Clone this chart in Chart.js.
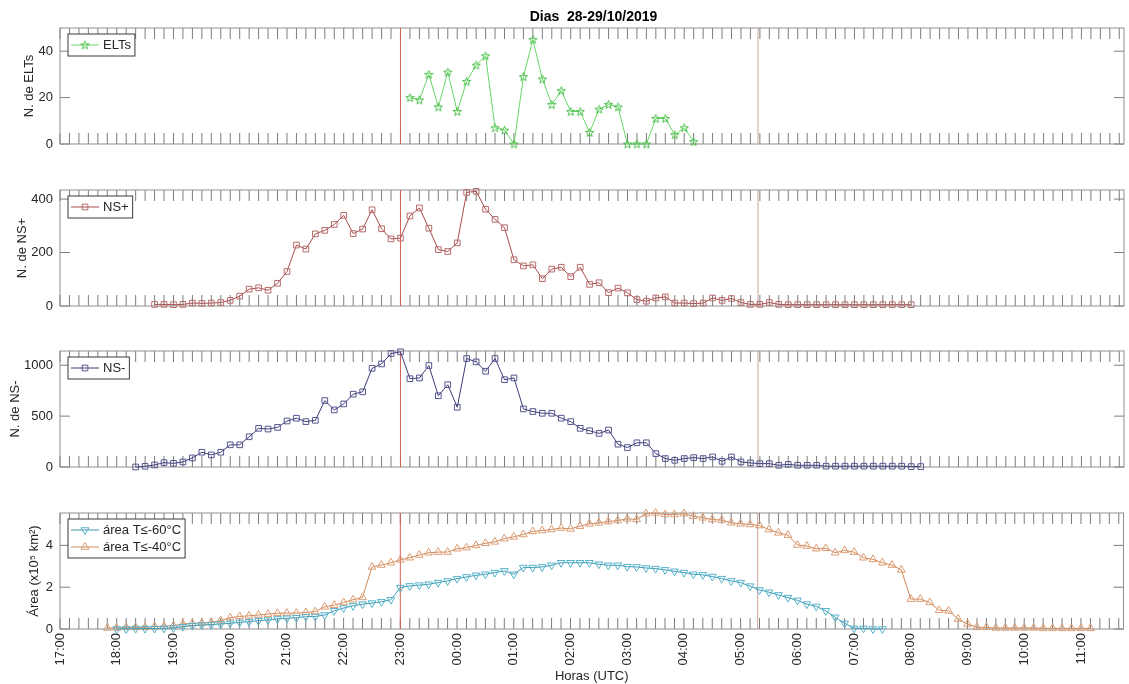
<!DOCTYPE html>
<html lang="pt">
<head>
<meta charset="utf-8">
<title>Dias 28-29/10/2019</title>
<script src="https://cdn.jsdelivr.net/npm/chart.js@4.4.1/dist/chart.umd.min.js"></script>
<style>
  html, body { margin: 0; padding: 0; background: #fff; }
  #fig { position: relative; width: 1129px; height: 684px; overflow: hidden; background: #fff; }
  #fig canvas { position: absolute; left: 0; top: 0; }
  #titulo {
    position: absolute; left: 60px; width: 1067px; top: 8px; line-height: 16px;
    text-align: center; white-space: pre; color: #000;
    font: bold 14px "Liberation Sans", Arial, Helvetica, sans-serif;
  }
</style>
</head>
<body>
<div id="fig">
  <canvas id="c1" width="1129" height="684"></canvas>
  <canvas id="c2" width="1129" height="684"></canvas>
  <canvas id="c3" width="1129" height="684"></canvas>
  <canvas id="c4" width="1129" height="684"></canvas>
  <div id="titulo">Dias  28-29/10/2019</div>
</div>
<script>
// ---- dados (amostragem a cada 10 min) ----
const PASSO_MIN = 10;
const INICIO_EIXO = '17:00';
const FIM_EIXO = '11:45';
const rotulosHora = ['17:00','18:00','19:00','20:00','21:00','22:00','23:00','00:00','01:00','02:00',
                     '03:00','04:00','05:00','06:00','07:00','08:00','09:00','10:00','11:00'];
const marcosVerticais = ['23:00', '05:18'];

const inicioELT = '23:10';
const elts = [20,19,30,16,31,14,27,34,38,7,6,0,29,45,28,17,23,14,14,5,15,17,16,0,0,0,11,11,4,7,1];

const inicioNSpos = '18:40';
const nsPos = [6,6,5,6,11,10,11,13,21,37,63,68,59,85,129,228,213,270,283,305,339,271,288,360,289,251,
               254,337,367,291,211,204,236,425,429,362,324,293,173,150,154,102,138,
               145,110,145,81,87,50,67,49,24,18,30,34,11,11,9,11,30,21,28,13,6,6,
               13,6,5,5,5,5,5,5,5,5,5,5,5,5,5,5];

const inicioNSneg = '18:20';
const nsNeg = [0,7,20,43,36,50,89,145,119,145,218,218,297,380,373,389,452,479,446,459,653,561,620,716,
               739,970,1013,1115,1132,868,875,997,700,809,587,1066,1033,941,1066,858,875,571,545,528,528,
               480,446,380,356,330,363,224,191,238,238,132,83,66,83,92,83,99,56,99,50,40,33,
               33,17,26,17,17,17,8,8,8,8,8,8,8,8,8,4,4];

const inicioArea60 = '18:00';
const area60 = [0,0,0.02,0.02,0.02,0.03,0.05,0.11,0.16,0.19,0.21,0.24,0.27,0.32,0.35,0.40,0.43,0.48,
                0.51,0.54,0.59,0.60,0.67,0.87,1.00,1.11,1.19,1.24,1.30,1.40,
                1.98,2.06,2.10,2.14,2.22,2.30,2.41,2.49,2.57,2.62,2.70,2.78,2.62,2.94,2.94,2.97,3.05,
                3.17,3.17,3.17,3.17,3.10,3.05,3.05,2.98,2.97,2.92,2.89,2.83,2.76,2.70,2.62,2.59,2.51,
                2.41,2.30,2.22,2.05,
                1.87,1.76,1.63,1.50,1.37,1.19,1.08,0.87,0.56,0.27,0.03,0.03,0,0];

const inicioArea40 = '17:50';
const area40 = [0.05,0.05,0.08,0.08,0.08,0.11,0.13,0.16,0.24,0.27,0.29,0.32,0.40,0.54,0.60,0.63,0.67,
                0.71,0.75,0.76,0.76,0.79,0.83,1.06,1.14,1.27,1.40,1.51,2.97,3.06,3.17,
                3.31,3.41,3.54,3.65,3.68,3.68,3.84,3.89,4.00,4.10,4.17,4.32,4.41,4.52,4.67,4.71,4.76,
                4.83,4.79,4.92,5.03,5.08,5.14,5.19,5.27,5.24,5.52,5.55,5.48,5.48,5.52,5.40,5.32,5.24,
                5.21,5.08,5.03,5.00,
                4.95,4.76,4.60,4.49,4.02,3.97,3.84,3.86,3.65,3.76,3.68,3.41,3.33,3.17,3.06,2.83,1.43,
                1.43,1.27,0.90,0.87,0.48,0.24,0.08,0.08,0.05,0.05,0.05,0.05,0.05,0.03,0.03,0.03,0.03,
                0.03,0.03];

const ticksELT = [0, 20, 40];
const ticksNSpos = [0, 200, 400];
const ticksNSneg = [0, 500, 1000];
const ticksArea = [0, 2, 4];

// ---- utilidades ----
const FONTE = '"Liberation Sans", Arial, Helvetica, sans-serif';
const COR_TEXTO = '#262626';
Chart.defaults.font.family = FONTE;
Chart.defaults.font.size = 13;
Chart.defaults.color = COR_TEXTO;

// horas decorridas desde o início do eixo
function horas(hhmm) {
  const [h, m] = hhmm.split(':').map(Number);
  const [h0, m0] = INICIO_EIXO.split(':').map(Number);
  let t = (h + m / 60) - (h0 + m0 / 60);
  if (t < 0) t += 24;
  return t;
}
function serie(inicio, valores) {
  const t0 = horas(inicio);
  return valores.map((v, i) => ({ x: t0 + i * PASSO_MIN / 60, y: v }));
}

// marcador pentagrama
function estrela(cor) {
  const c = document.createElement('canvas');
  c.width = 11; c.height = 11;
  const g = c.getContext('2d');
  g.strokeStyle = cor; g.lineWidth = 1;
  g.beginPath();
  for (let k = 0; k < 10; k++) {
    const r = k % 2 ? 1.8 : 4.4;
    const a = -Math.PI / 2 + k * Math.PI / 5;
    const px = 5.5 + r * Math.cos(a), py = 5.9 + r * Math.sin(a);
    if (k) g.lineTo(px, py); else g.moveTo(px, py);
  }
  g.closePath(); g.stroke();
  return c;
}

function desenhaMarcador(ctx, d, x, y) {
  const st = d.pointStyle;
  if (st instanceof HTMLCanvasElement) { ctx.drawImage(st, x - st.width / 2, y - st.height / 2); return; }
  ctx.save();
  ctx.translate(x, y);
  ctx.rotate((d.pointRotation || 0) * Math.PI / 180);
  ctx.strokeStyle = d.pointBorderColor; ctx.lineWidth = d.pointBorderWidth;
  const r = d.pointRadius;
  ctx.beginPath();
  if (st === 'rect') {
    const s = r * Math.SQRT1_2; ctx.rect(-s, -s, 2 * s, 2 * s);
  } else {
    for (let k = 0; k < 3; k++) {
      const a = k * 2 * Math.PI / 3;
      const px = Math.sin(a) * r, py = -Math.cos(a) * r;
      if (k) ctx.lineTo(px, py); else ctx.moveTo(px, py);
    }
    ctx.closePath();
  }
  ctx.stroke();
  ctx.restore();
}

// moldura: caixa, marcas internas, linhas de referência e legenda
const moldura = {
  id: 'moldura',
  beforeDatasetsDraw(chart, args, opts) {
    const { ctx, chartArea: a, scales: { x, y } } = chart;
    ctx.save();
    ctx.lineWidth = 1;
    // marcas do eixo x a cada 10 min (topo e base, para dentro)
    ctx.strokeStyle = '#7c7c7c';
    ctx.beginPath();
    const fim = horas(FIM_EIXO) * 60;
    for (let m = 0; m <= fim; m += PASSO_MIN) {
      const px = x.getPixelForValue(m / 60);
      ctx.moveTo(px, a.top); ctx.lineTo(px, a.top + 11);
      ctx.moveTo(px, a.bottom); ctx.lineTo(px, a.bottom - 11);
    }
    ctx.stroke();
    // marcas do eixo y (esquerda e direita)
    ctx.beginPath();
    y.ticks.forEach(t => {
      const py = y.getPixelForValue(t.value);
      ctx.moveTo(a.left, py); ctx.lineTo(a.left + 10, py);
      ctx.moveTo(a.right, py); ctx.lineTo(a.right - 10, py);
    });
    ctx.stroke();
    // caixa
    ctx.strokeStyle = '#8f8f8f';
    ctx.strokeRect(a.left, a.top, a.width, a.height);
    // linhas verticais de referência
    const cores = ['#d65f52', '#c9a39b'];
    marcosVerticais.forEach((h, i) => {
      const px = x.getPixelForValue(horas(h));
      ctx.strokeStyle = cores[i];
      ctx.beginPath(); ctx.moveTo(px, a.top); ctx.lineTo(px, a.bottom); ctx.stroke();
    });
    ctx.restore();
  },
  afterDraw(chart) {
    const { ctx, chartArea: a } = chart;
    const ds = chart.data.datasets;
    ctx.save();
    ctx.font = '13px ' + FONTE;
    const wTxt = Math.max(...ds.map(d => ctx.measureText(d.label).width));
    const rowH = 17, bx = a.left + 8, by = a.top + 6;
    const bw = 35 + wTxt + 4, bh = ds.length * rowH + 5;
    ctx.fillStyle = '#fff';
    ctx.fillRect(bx, by, bw, bh);
    ctx.strokeStyle = '#3a3a3a'; ctx.lineWidth = 1;
    ctx.strokeRect(bx, by, bw, bh);
    ds.forEach((d, i) => {
      const cy = by + 2.5 + rowH * (i + 0.5);
      ctx.strokeStyle = d.borderColor; ctx.lineWidth = 1;
      ctx.beginPath(); ctx.moveTo(bx + 3, cy); ctx.lineTo(bx + 31, cy); ctx.stroke();
      desenhaMarcador(ctx, d, bx + 17, cy);
      ctx.fillStyle = COR_TEXTO; ctx.textBaseline = 'middle'; ctx.textAlign = 'left';
      ctx.fillText(d.label, bx + 35, cy + 0.5);
    });
    ctx.restore();
  }
};

function painel(id, cfg) {
  const comX = !!cfg.eixoX;
  return new Chart(document.getElementById(id), {
    type: 'line',
    data: {
      datasets: cfg.series.map(s => ({
        label: s.rotulo,
        data: serie(s.inicio, s.valores),
        borderColor: s.cor,
        borderWidth: 1,
        tension: 0,
        fill: false,
        clip: false,
        pointStyle: s.marcador,
        pointRadius: s.raio,
        pointRotation: s.rot || 0,
        pointBorderColor: s.corMarcador,
        pointBackgroundColor: 'rgba(0,0,0,0)',
        pointBorderWidth: 1
      }))
    },
    options: {
      responsive: false,
      animation: false,
      devicePixelRatio: 1,
      events: [],
      layout: { padding: { left: cfg.padEsq, right: 2, top: cfg.topo, bottom: comX ? 0 : 684 - cfg.base } },
      scales: {
        x: {
          type: 'linear', min: 0, max: horas(FIM_EIXO),
          display: comX,
          grid: { display: false, drawTicks: false },
          border: { display: false },
          afterBuildTicks: s => { s.ticks = rotulosHora.map(r => ({ value: horas(r) })); },
          afterFit: s => { if (comX) s.height = 684 - cfg.base; },
          ticks: {
            autoSkip: false, minRotation: 90, maxRotation: 90, padding: 4, color: COR_TEXTO,
            callback: (v, i) => rotulosHora[i]
          },
          title: { display: comX, text: 'Horas (UTC)', padding: 0, color: COR_TEXTO, font: { size: 13 } }
        },
        y: {
          min: 0, max: cfg.ymax,
          grid: { display: false, drawTicks: false },
          border: { display: false },
          afterBuildTicks: s => { s.ticks = cfg.ticks.map(v => ({ value: v })); },
          afterFit: s => { s.width = 60 - cfg.padEsq; },
          ticks: { padding: 7, color: COR_TEXTO, callback: v => String(v) },
          title: { display: true, text: cfg.tituloY, padding: 0, color: COR_TEXTO, font: { size: 13 } }
        }
      },
      plugins: { legend: { display: false }, tooltip: { enabled: false } }
    },
    plugins: [moldura]
  });
}

painel('c1', {
  topo: 28, base: 144, padEsq: 22, ymax: 50, ticks: ticksELT, tituloY: 'N. de ELTs',
  series: [{ rotulo: 'ELTs', inicio: inicioELT, valores: elts, cor: '#6ad66a',
             corMarcador: '#46bf46', marcador: estrela('#46bf46'), raio: 4 }]
});
painel('c2', {
  topo: 190, base: 306, padEsq: 15, ymax: 434, ticks: ticksNSpos, tituloY: 'N. de NS+',
  series: [{ rotulo: 'NS+', inicio: inicioNSpos, valores: nsPos, cor: '#a84c4c',
             corMarcador: '#b86a6a', marcador: 'rect', raio: 4 }]
});
painel('c3', {
  topo: 351, base: 467, padEsq: 8, ymax: 1140, ticks: ticksNSneg, tituloY: 'N. de NS-',
  series: [{ rotulo: 'NS-', inicio: inicioNSneg, valores: nsNeg, cor: '#3b3b78',
             corMarcador: '#55558f', marcador: 'rect', raio: 4 }]
});
painel('c4', {
  topo: 513, base: 629, padEsq: 27, ymax: 5.55, ticks: ticksArea, tituloY: 'Área (x10⁵ km²)',
  eixoX: true,
  series: [
    { rotulo: 'área T≤-60°C', inicio: inicioArea60, valores: area60, cor: '#3d9ab0',
      corMarcador: '#57b2cd', marcador: 'triangle', raio: 4.5, rot: 180 },
    { rotulo: 'área T≤-40°C', inicio: inicioArea40, valores: area40, cor: '#cf8a5a',
      corMarcador: '#dc9c72', marcador: 'triangle', raio: 4.5 }
  ]
});
</script>
</body>
</html>
